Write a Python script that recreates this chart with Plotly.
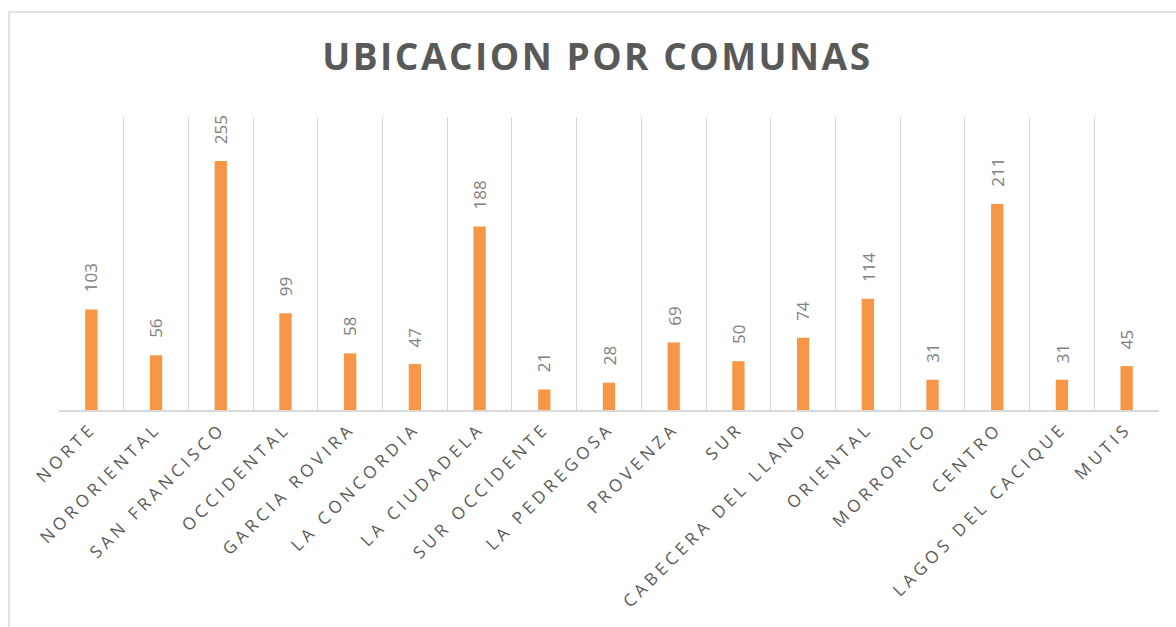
import plotly.graph_objects as go

categories = ["NORTE", "NORORIENTAL", "SAN FRANCISCO", "OCCIDENTAL", "GARCIA ROVIRA",
              "LA CONCORDIA", "LA CIUDADELA", "SUR OCCIDENTE", "LA PEDREGOSA", "PROVENZA",
              "SUR", "CABECERA DEL LLANO", "ORIENTAL", "MORRORICO", "CENTRO",
              "LAGOS DEL CACIQUE", "MUTIS"]
values = [103, 56, 255, 99, 58, 47, 188, 21, 28, 69, 50, 74, 114, 31, 211, 31, 45]
title_text = "UBICACION POR COMUNAS"

W, H = 1176, 627
L, R, T, B = 59, 17, 117, 217
pw = W - L - R

fig = go.Figure()
fig.add_trace(go.Bar(
    x=categories, y=values,
    marker=dict(color="#F79646", line=dict(width=0)),
    width=0.19,
    cliponaxis=False,
    hoverinfo="x+y",
))

for c, v in zip(categories, values):
    fig.add_annotation(x=c, y=v, xref="x", yref="y", text=str(v),
                       textangle=-90, showarrow=False,
                       xanchor="center", yanchor="bottom", yshift=15,
                       font=dict(family="Open Sans", size=17, color="#808080"))

def px_to_paper_x(px):
    return (px - L) / pw

def px_to_paper_y(py):
    return (H - B - py) / (H - T - B)

fig.add_shape(type="rect", xref="paper", yref="paper",
              x0=px_to_paper_x(9), x1=px_to_paper_x(1200),
              y0=px_to_paper_y(660), y1=px_to_paper_y(12),
              line=dict(color="#d9d9d9", width=1.5), fillcolor="rgba(0,0,0,0)", layer="below")

fig.update_layout(
    width=W, height=H,
    margin=dict(l=L, r=R, t=T, b=B),
    paper_bgcolor="white", plot_bgcolor="white",
    showlegend=False,
    title=dict(text="<b>" + title_text + "</b>", x=0.508, xanchor="center",
               y=1 - 57 / H, yanchor="middle", yref="container",
               font=dict(family="Open Sans", size=37, color="#595959")),
    xaxis=dict(
        type="category", tickson="boundaries", showgrid=True,
        gridcolor="#d9d9d9", gridwidth=1.3,
        showline=True, linecolor="#d9d9d9", linewidth=1.5,
        ticks="", tickangle=-45,
        tickfont=dict(family="Open Sans", size=17, color="#595959"),
        range=[-0.5, len(categories) - 0.5],
    ),
    yaxis=dict(range=[0, 300], showgrid=False, showticklabels=False,
               zeroline=False, showline=False, ticks=""),
)

post = """
document.body.style.margin = '0';
var s = document.createElement('style');
s.innerHTML = '.xaxislayer-above text{letter-spacing:4.2px;} .gtitle{letter-spacing:2.5px;}';
document.head.appendChild(s);
"""
fig.write_html("out.html", post_script=post, config={"displayModeBar": False})
